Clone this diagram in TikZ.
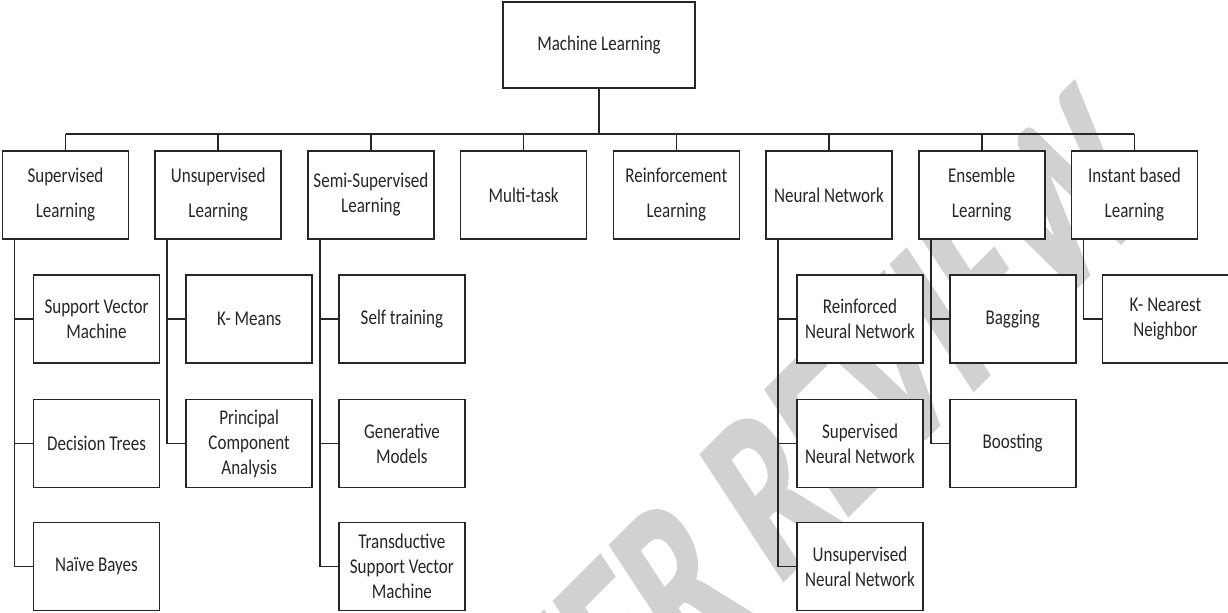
\documentclass[tikz,border=0pt]{standalone}
\usepackage{fontspec}
\setmainfont{Carlito}[FakeStretch=0.81]
\newfontfamily\wmfont{Carlito}[FakeBold=2]
\begin{document}
\begin{tikzpicture}[x=0.75pt,y=-0.75pt,
  every node/.style={inner sep=0pt,outer sep=0pt},
  box/.style={draw=black!85,line width=1.2pt,fill=white,align=center,
    text=black!85,font=\fontsize{15.75pt}{18.75pt}\selectfont,
    minimum width=94.5pt,minimum height=66pt},
  link/.style={draw=black!85,line width=1.2pt},
  wm/.style={text=black!18,font=\wmfont\bfseries\fontsize{137pt}{137pt}\selectfont}
]
\useasboundingbox (0,0) rectangle (1228,613);

% watermark behind the tree, squeezed like the rest of the lettering
\begin{scope}[xscale=0.81,transform shape]
\node[wm,rotate=39,yscale=1.35] (stamp) at (980,466) {PEER REVIEW};
\end{scope}

% root
\node[box,minimum width=144pt,minimum height=64.5pt] (ml) at (599,45) {Machine Learning};

% first level
\node[box] (sup)  at (65.5,195)  {Supervised\\[7.5pt]Learning};
\node[box] (uns)  at (218.2,195) {Unsupervised\\[7.5pt]Learning};
\node[box] (semi) at (370.9,195) {Semi-Supervised\\Learning};
\node[box] (mt)   at (523.6,195) {Multi-task};
\node[box] (rl)   at (676.3,195) {Reinforcement\\[7.5pt]Learning};
\node[box] (nn)   at (829,195)   {Neural Network};
\node[box] (ens)  at (981.7,195) {Ensemble\\[7.5pt]Learning};
\node[box] (ibl)  at (1134.4,195){Instant based\\[7.5pt]Learning};

% second level
\node[box] (svm)  at (96.5,319)   {Support Vector\\Machine};
\node[box] (dt)   at (96.5,443.5) {Decision Trees};
\node[box] (nb)   at (96.5,566.5) {Naïve Bayes};

\node[box] (km)   at (249.2,319)   {K- Means};
\node[box] (pca)  at (249.2,443.5) {Principal\\Component\\Analysis};

\node[box] (st)   at (401.9,319)   {Self training};
\node[box] (gm)   at (401.9,443.5) {Generative\\Models};
\node[box] (tsvm) at (401.9,566.5) {Transductive\\Support Vector\\Machine};

\node[box] (rnn)  at (860,319)   {Reinforced\\Neural Network};
\node[box] (snn)  at (860,443.5) {Supervised\\Neural Network};
\node[box] (unn)  at (860,566.5) {Unsupervised\\Neural Network};

\node[box] (bag)  at (1012.7,319)   {Bagging};
\node[box] (boo)  at (1012.7,443.5) {Boosting};

\node[box] (knn)  at (1165.4,319) {K- Nearest\\Neighbor};

% connectors: root trunk, main bar and drops
\coordinate (barL) at (65.5,134);
\coordinate (barR) at (1134.4,134);
\draw[link] (ml.south) -- (ml.south |- barL);
\draw[link] (barL) -- (barR);
\foreach \n in {sup,uns,semi,mt,rl,nn,ens,ibl}
  \draw[link] (\n.north) -- (\n.north |- barL);

% connectors: side spines to the sub-topics
\draw[link] ([xshift=9pt]sup.south west) |- (nb.west);
\draw[link] ([xshift=9pt]sup.south west |- svm.west) -- (svm.west);
\draw[link] ([xshift=9pt]sup.south west |- dt.west) -- (dt.west);

\draw[link] ([xshift=9pt]uns.south west) |- (pca.west);
\draw[link] ([xshift=9pt]uns.south west |- km.west) -- (km.west);

\draw[link] ([xshift=9pt]semi.south west) |- (tsvm.west);
\draw[link] ([xshift=9pt]semi.south west |- st.west) -- (st.west);
\draw[link] ([xshift=9pt]semi.south west |- gm.west) -- (gm.west);

\draw[link] ([xshift=9pt]nn.south west) |- (unn.west);
\draw[link] ([xshift=9pt]nn.south west |- rnn.west) -- (rnn.west);
\draw[link] ([xshift=9pt]nn.south west |- snn.west) -- (snn.west);

\draw[link] ([xshift=9pt]ens.south west) |- (boo.west);
\draw[link] ([xshift=9pt]ens.south west |- bag.west) -- (bag.west);

\draw[link] ([xshift=9pt]ibl.south west) |- (knn.west);
\end{tikzpicture}
\end{document}
